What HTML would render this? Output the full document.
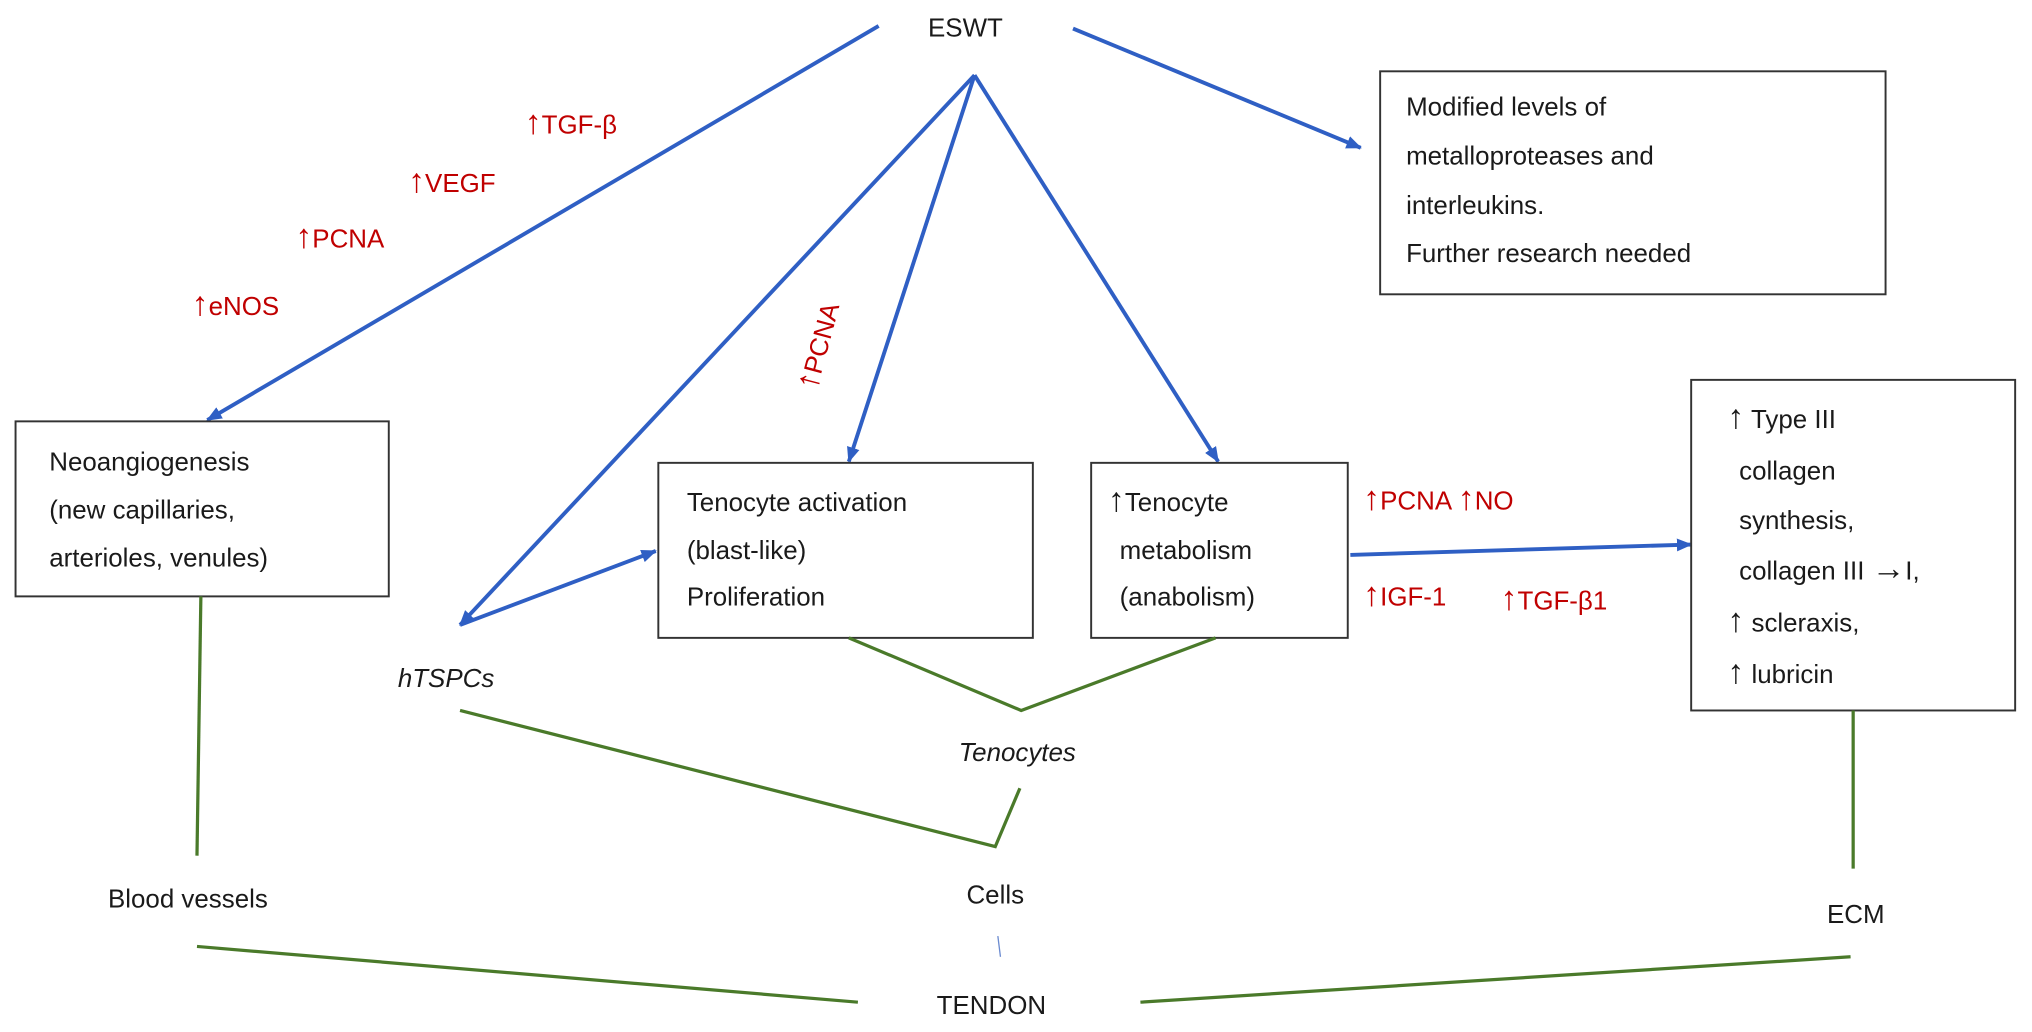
<!DOCTYPE html>
<html><head><meta charset="utf-8"><style>
html,body{margin:0;padding:0;background:#fff;}
svg{display:block;}
text{font-family:"Liberation Sans",Arial,sans-serif;font-size:20px;fill:#1a1a1a;}
.r{fill:#c00000;}
.b{stroke:#2f5fc4;stroke-width:3;fill:none;}
.g{stroke:#4a7a2a;stroke-width:2.5;fill:none;}
.box{fill:#fff;stroke:#333;stroke-width:1.5;}
tspan.u{font-size:26px;}
</style></head><body>
<svg width="2032" height="1032" viewBox="0 0 1568 796" preserveAspectRatio="none" xmlns="http://www.w3.org/2000/svg">
<defs>
<marker id="a" markerWidth="12" markerHeight="10" refX="11" refY="5" orient="auto" markerUnits="userSpaceOnUse"><path d="M0,0 L12,5 L0,10 z" fill="#2f5fc4"/></marker>
</defs>
<text x="745" y="28" text-anchor="middle">ESWT</text>
<line class="b" x1="678" y1="20" x2="160" y2="324" marker-end="url(#a)"/>
<line class="b" x1="828" y1="22" x2="1050" y2="114" marker-end="url(#a)"/>
<line class="b" x1="752" y1="58" x2="355" y2="482" marker-end="url(#a)"/>
<line class="b" x1="752" y1="58" x2="655" y2="356" marker-end="url(#a)"/>
<line class="b" x1="752" y1="58" x2="940" y2="356" marker-end="url(#a)"/>
<line class="b" x1="355" y1="482" x2="506" y2="425" marker-end="url(#a)"/>
<line class="b" x1="1042" y1="428" x2="1305" y2="420" marker-end="url(#a)"/>
<text class="r" x="405" y="103"><tspan class="u">↑</tspan>TGF-β</text>
<text class="r" x="315" y="148"><tspan class="u">↑</tspan>VEGF</text>
<text class="r" x="228" y="191"><tspan class="u">↑</tspan>PCNA</text>
<text class="r" x="148" y="243"><tspan class="u">↑</tspan>eNOS</text>
<text class="r" transform="translate(630,302) rotate(-75)"><tspan class="u">↑</tspan>PCNA</text>
<rect class="box" x="1065" y="55" width="390" height="172"/>
<text x="1085" y="89">Modified levels of</text>
<text x="1085" y="127">metalloproteases and</text>
<text x="1085" y="165">interleukins.</text>
<text x="1085" y="202">Further research needed</text>
<rect class="box" x="12" y="325" width="288" height="135"/>
<text x="38" y="363">Neoangiogenesis</text>
<text x="38" y="400">(new capillaries,</text>
<text x="38" y="437">arterioles, venules)</text>
<rect class="box" x="508" y="357" width="289" height="135"/>
<text x="530" y="394">Tenocyte activation</text>
<text x="530" y="431">(blast-like)</text>
<text x="530" y="467">Proliferation</text>
<rect class="box" x="842" y="357" width="198" height="135"/>
<text x="855" y="394"><tspan class="u">↑</tspan>Tenocyte</text>
<text x="864" y="431">metabolism</text>
<text x="864" y="467">(anabolism)</text>
<text class="r" x="1052" y="393"><tspan class="u">↑</tspan>PCNA <tspan class="u">↑</tspan>NO</text>
<text class="r" x="1052" y="467"><tspan class="u">↑</tspan>IGF-1</text>
<text class="r" x="1158" y="470"><tspan class="u">↑</tspan>TGF-β1</text>
<rect class="box" x="1305" y="293" width="250" height="255"/>
<text x="1333" y="330"><tspan class="u">↑</tspan> Type III</text>
<text x="1342" y="370">collagen</text>
<text x="1342" y="408">synthesis,</text>
<text x="1342" y="447">collagen III <tspan class="u">→</tspan>I,</text>
<text x="1333" y="487"><tspan class="u">↑</tspan> scleraxis,</text>
<text x="1333" y="527"><tspan class="u">↑</tspan> lubricin</text>
<text x="307" y="530" font-style="italic">hTSPCs</text>
<polyline class="g" points="655,492 788,548 938,492"/>
<text x="785" y="587" text-anchor="middle" font-style="italic">Tenocytes</text>
<polyline class="g" points="355,548 768,653 787,608"/>
<text x="768" y="697" text-anchor="middle">Cells</text>
<line x1="770" y1="722" x2="772" y2="738" stroke="#6a8ad0" stroke-width="1"/>
<line class="g" x1="155" y1="460" x2="152" y2="660"/>
<text x="145" y="700" text-anchor="middle">Blood vessels</text>
<line class="g" x1="1430" y1="548" x2="1430" y2="670"/>
<text x="1432" y="712" text-anchor="middle">ECM</text>
<line class="g" x1="152" y1="730" x2="662" y2="773"/>
<text x="765" y="782" text-anchor="middle">TENDON</text>
<line class="g" x1="880" y1="773" x2="1428" y2="738"/>
</svg>
</body></html>
